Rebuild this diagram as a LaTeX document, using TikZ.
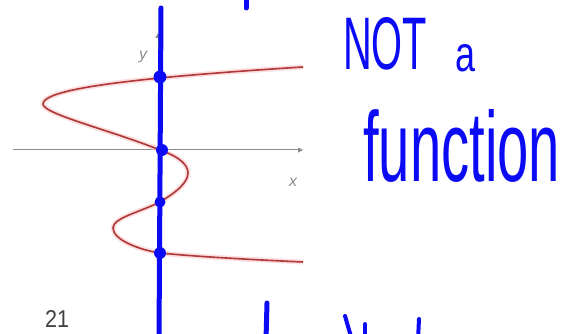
\documentclass[tikz,border=0pt]{standalone}
\usepackage{fontspec}
\setmainfont{Liberation Sans}
\usetikzlibrary{arrows.meta}
\definecolor{pen}{RGB}{10,10,245}
\definecolor{curvered}{RGB}{175,55,55}
\definecolor{halo}{RGB}{250,200,200}
\definecolor{axisgray}{RGB}{140,140,140}
\tikzset{
  axisline/.style={draw=axisgray, line width=1pt, -{Triangle[length=5pt,width=5pt]}},
  penstroke/.style={draw=pen, line width=5pt, line cap=round},
  hand/.style={text=pen, inner sep=0pt},
  dot/.style={circle, fill=pen, inner sep=0pt, minimum size=12pt},
  lbl/.style={text=axisgray, font=\itshape\fontsize{16}{16}\selectfont, inner sep=0pt}
}
\def\curvepath{(303,67) .. controls (255,70) and (200,74) .. (160,78)
  .. controls (100,84) and (43,92) .. (43,104)
  .. controls (43,114) and (110,130) .. (160,150)
  .. controls (180,157) and (188,165) .. (188,173)
  .. controls (188,183) and (175,193) .. (160,202)
  .. controls (140,212) and (113,218) .. (113,228)
  .. controls (113,240) and (140,250) .. (160,253)
  .. controls (200,257) and (260,260) .. (303,262)}
\begin{document}
\begin{tikzpicture}[x=1pt,y=-1pt]
\useasboundingbox (0,0) rectangle (568,334);
% axes
\draw[axisline] (13,150) -- (303,150);
\draw[axisline] (158,290) -- (158,33);
\node[lbl] (ylab) at (143,57) {y};
\node[lbl] (xlab) at (293,182) {x};
% curve
\draw[halo, line width=5pt, opacity=0.6] \curvepath;
\draw[curvered, line width=1.6pt] \curvepath;
% vertical line test
\coordinate (vtop) at (161,8);
\coordinate (vbot) at (159,340);
\draw[penstroke] (vtop) -- (vbot);
\node[dot, minimum size=13pt] (p1) at (160,77) {};
\node[dot] (p2) at (162,150) {};
\node[dot, minimum size=11pt] (p3) at (160,202) {};
\node[dot] (p4) at (160,253) {};
% stray strokes
\coordinate (s1a) at (246,-5); \coordinate (s1b) at (246,8);
\draw[penstroke] (s1a) -- (s1b);
\coordinate (s2a) at (267,303); \coordinate (s2b) at (266,340);
\draw[penstroke] (s2a) -- (s2b);
\coordinate (s3a) at (345,316); \coordinate (s3b) at (352,340);
\draw[penstroke, line width=4pt] (s3a) -- (s3b);
\coordinate (s4a) at (365,324); \coordinate (s4b) at (365,340);
\draw[penstroke, line width=4pt] (s4a) -- (s4b);
\coordinate (s5a) at (419,319); \coordinate (s5b) at (418,340);
\draw[penstroke, line width=4pt] (s5a) -- (s5b);
% handwritten text
\node[hand, anchor=south west] (nt) at (343,70) {\resizebox{84pt}{52pt}{NOT}};
\node[hand, anchor=south west] (na) at (455,72) {\resizebox{20pt}{27pt}{a}};
\node[hand, anchor=south west] (fn) at (363,183) {\resizebox{197pt}{72pt}{function}};
% page number
\node[text=black!75, inner sep=0pt, anchor=south west] (pg) at (45,328) {\resizebox{24pt}{17pt}{21}};
\end{tikzpicture}
\end{document}
